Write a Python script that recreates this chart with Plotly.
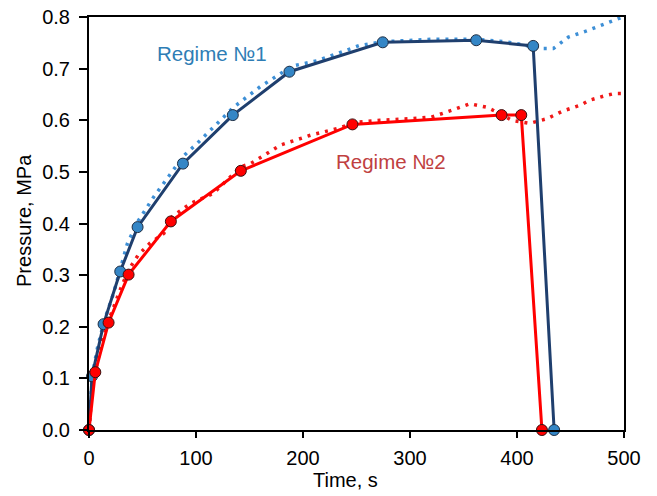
import plotly.graph_objects as go

# Regime 1 (experiment)
t_r1 = [0, 2.8, 13.6, 29.2, 45.4, 87.8, 134.4, 187.3, 274.5, 361.9, 415.1, 434.7]
p_r1 = [0, 0.104, 0.205, 0.307, 0.393, 0.516, 0.610, 0.694, 0.751, 0.755, 0.744, 0.0]

# Regime 2 (experiment)
t_r2 = [0, 5.9, 18.3, 37.0, 76.5, 141.9, 246.2, 385.6, 404.0, 423.3]
p_r2 = [0, 0.112, 0.208, 0.301, 0.404, 0.502, 0.592, 0.610, 0.610, 0.0]

# Regime 1 (model, dotted)
t_m1 = [0, 3, 8, 14, 23, 30, 36, 46, 60, 88, 101, 135, 160, 190, 213, 253, 275, 320, 362, 390, 415, 424, 434, 448, 465, 479, 500]
p_m1 = [0, 0.105, 0.16, 0.21, 0.265, 0.315, 0.362, 0.405, 0.45, 0.53, 0.555, 0.625, 0.665, 0.705, 0.715, 0.745, 0.752, 0.757, 0.757, 0.752, 0.743, 0.739, 0.739, 0.761, 0.773, 0.784, 0.801]

# Regime 2 (model, dotted)
t_m2 = [0, 3, 6, 12, 18, 29, 37, 46, 57, 70, 77, 95, 116, 142, 151, 179, 207, 232, 250, 272, 300, 320, 340, 356, 372, 381, 395, 412, 428, 443, 459, 468, 483, 492, 500]
p_m2 = [0, 0.08, 0.115, 0.17, 0.21, 0.271, 0.31, 0.339, 0.362, 0.381, 0.412, 0.439, 0.458, 0.51, 0.516, 0.552, 0.571, 0.584, 0.596, 0.600, 0.603, 0.606, 0.62, 0.632, 0.625, 0.616, 0.600, 0.594, 0.603, 0.618, 0.629, 0.639, 0.648, 0.652, 0.652]

x_ticks = [0, 100, 200, 300, 400, 500]
y_ticks = [0.0, 0.1, 0.2, 0.3, 0.4, 0.5, 0.6, 0.7, 0.8]

FONT = "Arial, Liberation Sans, sans-serif"

fig = go.Figure()
fig.add_trace(go.Scatter(x=t_m1, y=p_m1, mode="lines",
                         line=dict(color="#3D8FD6", width=3.5, dash="3px,6px"),
                         showlegend=False, hoverinfo="skip"))
fig.add_trace(go.Scatter(x=t_m2, y=p_m2, mode="lines",
                         line=dict(color="#F01818", width=3.5, dash="3px,6px"),
                         showlegend=False, hoverinfo="skip"))
fig.add_trace(go.Scatter(x=t_r1, y=p_r1, mode="lines+markers",
                         line=dict(color="#1F3F6E", width=3),
                         marker=dict(size=11, color="#3486C6", line=dict(color="#1E2E44", width=1)),
                         cliponaxis=False, showlegend=False))
fig.add_trace(go.Scatter(x=t_r2, y=p_r2, mode="lines+markers",
                         line=dict(color="#FF0000", width=3),
                         marker=dict(size=11, color="#FF0000", line=dict(color="#3A1010", width=1)),
                         cliponaxis=False, showlegend=False))

fig.add_annotation(x=114.8, y=0.729, text="Regime №1", showarrow=False,
                   font=dict(family=FONT, size=20.5, color="#2E7DB5"))
fig.add_annotation(x=282, y=0.5195, text="Regime №2", showarrow=False,
                   font=dict(family=FONT, size=20.5, color="#C04040"))

# axis titles
fig.add_annotation(x=0.4794, y=-0.121, xref="paper", yref="paper", text="Time, s",
                   showarrow=False, xanchor="center", yanchor="middle",
                   font=dict(family=FONT, size=20, color="black"))
fig.add_annotation(x=-0.1215, y=0.5085, xref="paper", yref="paper", text="Pressure, MPa",
                   showarrow=False, xanchor="center", yanchor="middle", textangle=-90,
                   font=dict(family=FONT, size=20, color="black"))

axis_common = dict(showline=True, linewidth=2, linecolor="black", mirror=True,
                   ticks="outside", tickwidth=2, tickcolor="black",
                   showgrid=False, zeroline=False, automargin=False,
                   tickfont=dict(family=FONT, size=20, color="black"))

fig.update_xaxes(range=[0, 500], tickvals=x_ticks, ticktext=[str(v) for v in x_ticks],
                 ticklen=6, ticklabelstandoff=3, **axis_common)
fig.update_yaxes(range=[0, 0.8], tickvals=y_ticks, ticktext=[f"{v:.1f}" for v in y_ticks],
                 ticklen=8, ticklabelstandoff=5, **axis_common)

fig.update_layout(width=657, height=496, margin=dict(l=89, r=33, t=17, b=66),
                  plot_bgcolor="white", paper_bgcolor="white",
                  font=dict(family=FONT))

fig.write_html("out.html", config={"displayModeBar": False},
               post_script="document.body.style.margin='0px';")
